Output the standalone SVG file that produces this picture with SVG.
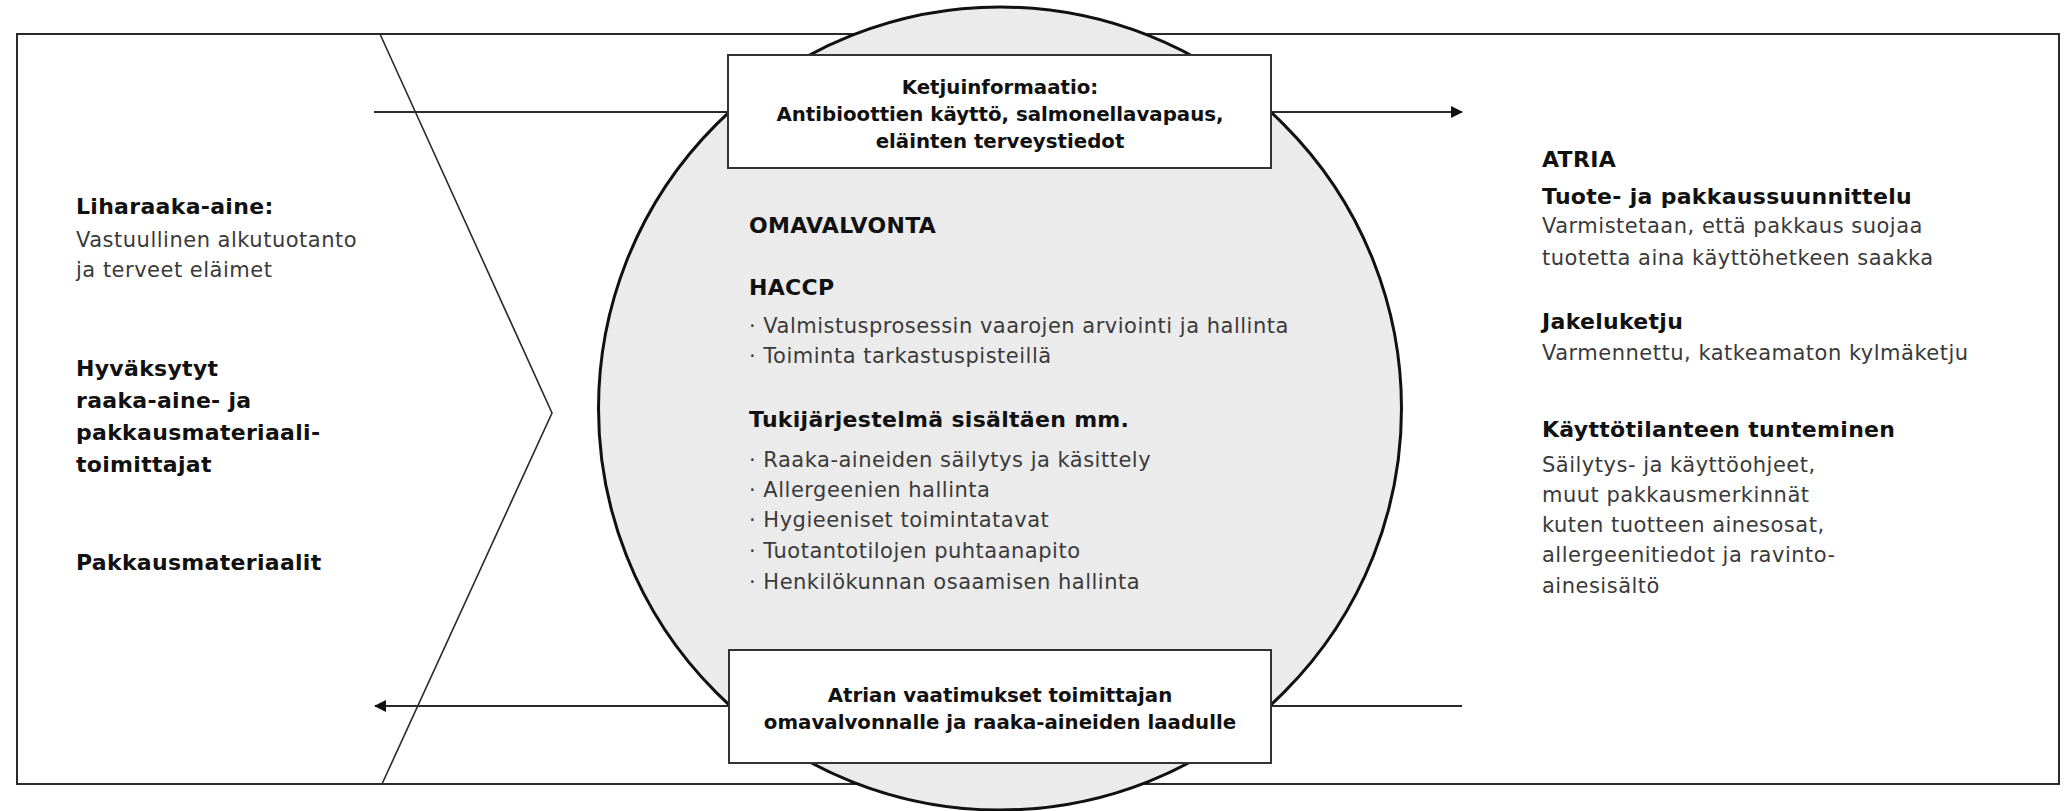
<svg xmlns="http://www.w3.org/2000/svg" width="2069" height="811" viewBox="0 0 2069 811">
<defs>
<style>
.b{font-family:"DejaVu Sans","Liberation Sans",sans-serif;font-weight:bold;font-size:22px;letter-spacing:0.3px;fill:#111}
.r{font-family:"DejaVu Sans","Liberation Sans",sans-serif;font-size:21px;letter-spacing:0.5px;fill:#3a3a3a}
.bx{font-family:"DejaVu Sans","Liberation Sans",sans-serif;font-weight:bold;font-size:19.8px;fill:#111;text-anchor:middle}
.ln{fill:none;stroke:#2a2a2a;stroke-width:2}
.conn{fill:none;stroke:#2a2a2a;stroke-width:2}
.box{fill:#fff;stroke:#333;stroke-width:2}
</style>
<marker id="ah" viewBox="0 0 12 12" refX="11" refY="6" markerWidth="12" markerHeight="12" markerUnits="userSpaceOnUse" orient="auto">
<path d="M0,0 L12,6 L0,12 Z" fill="#111"/>
</marker>
</defs>
<rect width="2069" height="811" fill="#fff"/>
<g id="frame">
<rect x="17" y="34" width="2042" height="750" class="ln" fill="#fff"/>
<polyline points="380,34 552,413 382,784" fill="none" stroke="#2a2a2a" stroke-width="1.6"/>
</g>
<g id="connectors">
<line x1="374" y1="112" x2="1462" y2="112" class="conn" marker-end="url(#ah)"/>
<line x1="1462" y1="706" x2="375" y2="706" class="conn" marker-end="url(#ah)"/>
</g>
<g id="omavalvonta">
<circle cx="1000" cy="408.5" r="401.5" fill="#ebebeb" stroke="#111" stroke-width="3"/>
<text class="b" x="749" y="233">OMAVALVONTA</text>
<text class="b" x="749" y="295">HACCP</text>
<text class="r" x="749" y="333">· Valmistusprosessin vaarojen arviointi ja hallinta</text>
<text class="r" x="749" y="363">· Toiminta tarkastuspisteillä</text>
<text class="b" x="749" y="427">Tukijärjestelmä sisältäen mm.</text>
<text class="r" x="749" y="467">· Raaka-aineiden säilytys ja käsittely</text>
<text class="r" x="749" y="497">· Allergeenien hallinta</text>
<text class="r" x="749" y="527">· Hygieeniset toimintatavat</text>
<text class="r" x="749" y="558">· Tuotantotilojen puhtaanapito</text>
<text class="r" x="749" y="589">· Henkilökunnan osaamisen hallinta</text>
</g>
<g id="ketjuinformaatio">
<rect x="728" y="55" width="543" height="113" class="box"/>
<text class="bx" x="1000" y="94">Ketjuinformaatio:</text>
<text class="bx" x="1000" y="121">Antibioottien käyttö, salmonellavapaus,</text>
<text class="bx" x="1000" y="148">eläinten terveystiedot</text>
</g>
<g id="vaatimukset">
<rect x="729" y="650" width="542" height="113" class="box"/>
<text class="bx" x="1000" y="702">Atrian vaatimukset toimittajan</text>
<text class="bx" x="1000" y="729">omavalvonnalle ja raaka-aineiden laadulle</text>
</g>
<g id="toimittajat">
<text class="b" x="76" y="214">Liharaaka-aine:</text>
<text class="r" x="76" y="247">Vastuullinen alkutuotanto</text>
<text class="r" x="76" y="277">ja terveet eläimet</text>
<text class="b" x="76" y="376">Hyväksytyt</text>
<text class="b" x="76" y="408">raaka-aine- ja</text>
<text class="b" x="76" y="440">pakkausmateriaali-</text>
<text class="b" x="76" y="472">toimittajat</text>
<text class="b" x="76" y="570">Pakkausmateriaalit</text>
</g>
<g id="atria">
<text class="b" x="1542" y="167">ATRIA</text>
<text class="b" x="1542" y="204">Tuote- ja pakkaussuunnittelu</text>
<text class="r" x="1542" y="233">Varmistetaan, että pakkaus suojaa</text>
<text class="r" x="1542" y="265">tuotetta aina käyttöhetkeen saakka</text>
<text class="b" x="1542" y="329">Jakeluketju</text>
<text class="r" x="1542" y="360">Varmennettu, katkeamaton kylmäketju</text>
<text class="b" x="1542" y="437">Käyttötilanteen tunteminen</text>
<text class="r" x="1542" y="472">Säilytys- ja käyttöohjeet,</text>
<text class="r" x="1542" y="502">muut pakkausmerkinnät</text>
<text class="r" x="1542" y="532">kuten tuotteen ainesosat,</text>
<text class="r" x="1542" y="562">allergeenitiedot ja ravinto-</text>
<text class="r" x="1542" y="593">ainesisältö</text>
</g>
</svg>
